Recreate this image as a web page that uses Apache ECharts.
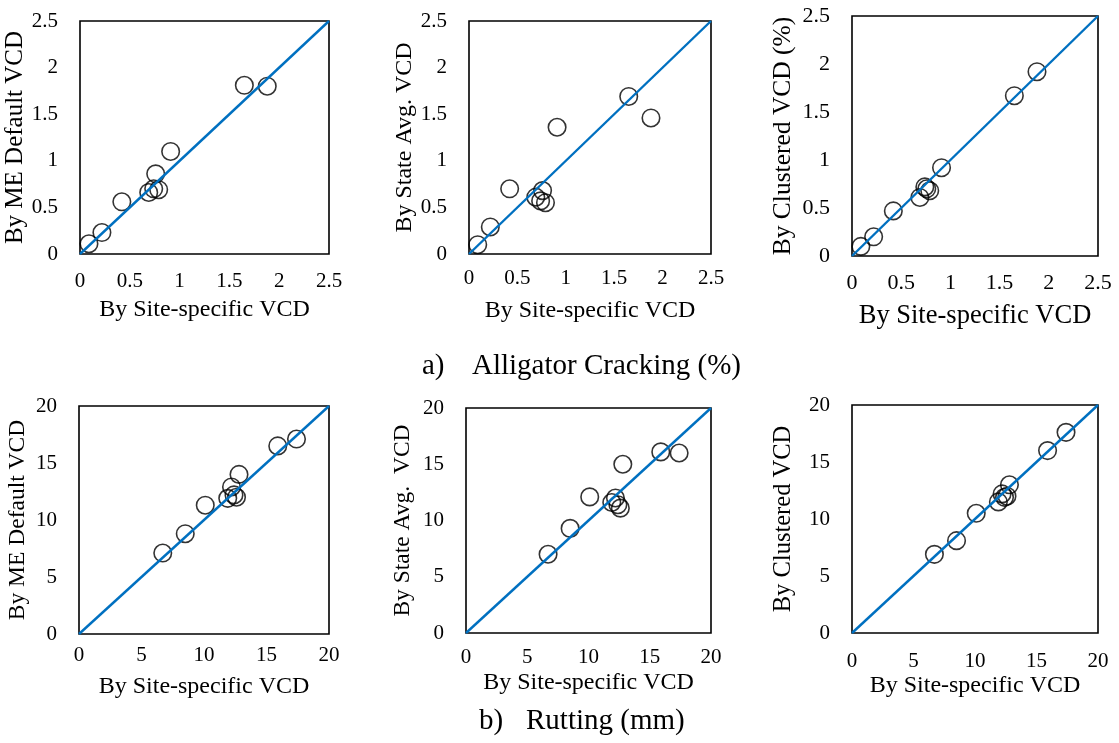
<!DOCTYPE html>
<html>
<head>
<meta charset="utf-8">
<script src="https://cdn.jsdelivr.net/npm/echarts@6/dist/echarts.min.js"></script>
<style>
html,body{margin:0;padding:0;background:#fff;}
#chart{width:1119px;height:743px;}
</style>
</head>
<body>
<div id="chart"></div>
<script>
// ---- Data ----
// a) Alligator Cracking (%)
const acSite      = [0.09, 0.22, 0.42, 0.69, 0.74, 0.76, 0.79, 0.91, 1.65, 1.88];
const acMEDefault = [0.11, 0.23, 0.56, 0.66, 0.70, 0.86, 0.69, 1.10, 1.81, 1.80];
const acStateAvg  = [0.10, 0.29, 0.70, 0.61, 0.57, 0.68, 0.55, 1.36, 1.69, 1.46];
const acClustered = [0.10, 0.20, 0.47, 0.61, 0.72, 0.70, 0.68, 0.92, 1.67, 1.92];
// b) Rutting (mm)
const rutSite      = [6.7, 8.5, 10.1, 11.9, 12.2, 12.4, 12.6, 12.8, 15.9, 17.4];
const rutMEDefault = [7.1, 8.8, 11.3, 11.9, 12.9, 12.2, 12.0, 14.0, 16.5, 17.1];
const rutStateAvg  = [7.0, 9.3, 12.1, 11.6, 12.0, 11.4, 11.1, 15.0, 16.1, 16.0];
const rutClustered = [6.9, 8.1, 10.5, 11.5, 12.2, 11.9, 12.0, 13.0, 16.0, 17.6];

const acAxis  = {min: 0, max: 2.5, interval: 0.5};
const rutAxis = {min: 0, max: 20, interval: 5};

const xTitle = 'By Site-specific VCD';
const yTitles = ['By ME Default VCD', 'By State Avg. VCD', 'By Clustered VCD (%)',
                 'By ME Default VCD', 'By State Avg.  VCD', 'By Clustered VCD'];
const captions = ['a)', 'Alligator Cracking (%)', 'b)', 'Rutting (mm)'];

// ---- Layout ----
const FONT = '"Liberation Serif", "Times New Roman", serif';
const panels = [
  {grid:{left:80, top:21, width:249, height:233}, ax:acAxis, x:acSite, y:acMEDefault, tick:21, xt:24, yt:25, xm:17, xg:44, yg:50},
  {grid:{left:469, top:21, width:242, height:233}, ax:acAxis, x:acSite, y:acStateAvg, tick:21, xt:24, yt:24, xm:14, xg:45, yg:52},
  {grid:{left:852, top:16, width:246, height:240}, ax:acAxis, x:acSite, y:acClustered, tick:22, xt:26.5, yt:25.5, xm:16, xg:47, yg:56},
  {grid:{left:79, top:406, width:250, height:228}, ax:rutAxis, x:rutSite, y:rutMEDefault, tick:21, xt:24, yt:23.5, xm:11, xg:41, yg:49},
  {grid:{left:466, top:408, width:245, height:225}, ax:rutAxis, x:rutSite, y:rutStateAvg, tick:21, xt:24, yt:23.5, xm:14, xg:38, yg:51},
  {grid:{left:852, top:405, width:246, height:228}, ax:rutAxis, x:rutSite, y:rutClustered, tick:21, xt:24, yt:24.5, xm:18, xg:41, yg:56}
];

const grid = [], xAxis = [], yAxis = [], series = [];
panels.forEach((p, i) => {
  grid.push(Object.assign({show:true, borderColor:'#000', borderWidth:1.6, backgroundColor:'#fff'}, p.grid));
  const common = {
    min:p.ax.min, max:p.ax.max, interval:p.ax.interval, gridIndex:i,
    splitLine:{show:false}, axisTick:{show:false}, axisLine:{show:false},
    nameLocation:'middle'
  };
  xAxis.push(Object.assign({}, common, {
    type:'value', name:xTitle, nameGap:p.xg,
    nameTextStyle:{fontFamily:FONT, fontSize:p.xt, color:'#000'},
    axisLabel:{fontFamily:FONT, fontSize:p.tick, color:'#000', margin:p.xm, showMaxLabel:true, showMinLabel:true}
  }));
  yAxis.push(Object.assign({}, common, {
    type:'value', name:yTitles[i], nameGap:p.yg, nameRotate:90,
    nameTextStyle:{fontFamily:FONT, fontSize:p.yt, color:'#000'},
    axisLabel:{fontFamily:FONT, fontSize:p.tick, color:'#000', margin:22}
  }));
  series.push({
    type:'scatter', xAxisIndex:i, yAxisIndex:i,
    data:p.x.map((v, k) => [v, p.y[k]]),
    symbol:'circle', symbolSize:17.5,
    itemStyle:{color:'rgba(255,255,255,0)', borderColor:'#000', borderWidth:1.6},
    z:2
  });
  series.push({
    type:'line', xAxisIndex:i, yAxisIndex:i,
    data:[[p.ax.min, p.ax.min], [p.ax.max, p.ax.max]],
    symbol:'none', lineStyle:{color:'#0070C0', width:2.4},
    z:3, silent:true
  });
});

const capStyle = {fontFamily:FONT, fontSize:29, fontWeight:'normal', color:'#000'};
const chart = echarts.init(document.getElementById('chart'), null, {renderer:'canvas'});
chart.setOption({
  animation:false,
  backgroundColor:'#fff',
  title:[
    {text:captions[0], left:422, top:352, textStyle:capStyle, padding:0},
    {text:captions[1], left:472, top:352, textStyle:capStyle, padding:0},
    {text:captions[2], left:479, top:707, textStyle:capStyle, padding:0},
    {text:captions[3], left:526, top:707, textStyle:capStyle, padding:0}
  ],
  grid, xAxis, yAxis, series
});
</script>
</body>
</html>
